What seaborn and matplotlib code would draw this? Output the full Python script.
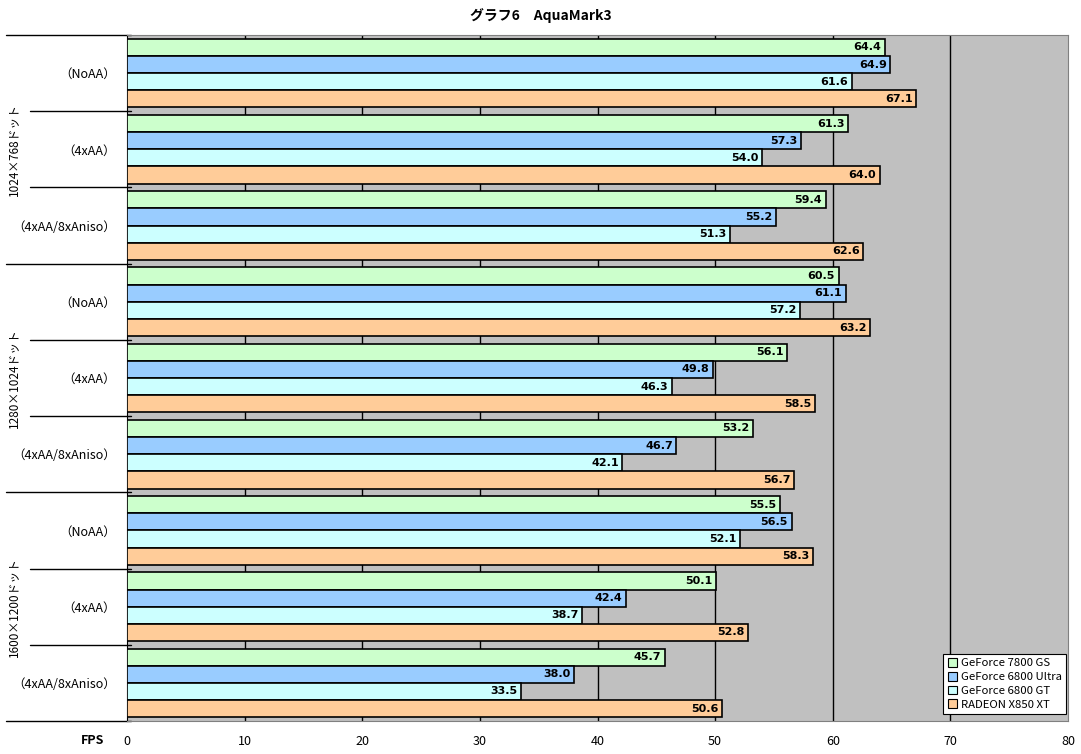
import matplotlib
matplotlib.use("Agg")
from matplotlib import pyplot as plt
from matplotlib.patches import Patch
import seaborn as sns
import pandas as pd
import numpy as np

resolutions = ["1024×768ドット", "1280×1024ドット", "1600×1200ドット"]
settings = ["（NoAA）", "（4xAA）", "（4xAA/8xAniso）"]
series = ["GeForce 7800 GS", "GeForce 6800 Ultra", "GeForce 6800 GT", "RADEON X850 XT"]
colors = ["#CCFFCC", "#99CCFF", "#CCFFFF", "#FFCC99"]

gf7800gs = [64.4, 61.3, 59.4, 60.5, 56.1, 53.2, 55.5, 50.1, 45.7]
gf6800ultra = [64.9, 57.3, 55.2, 61.1, 49.8, 46.7, 56.5, 42.4, 38.0]
gf6800gt = [61.6, 54.0, 51.3, 57.2, 46.3, 42.1, 52.1, 38.7, 33.5]
x850xt = [67.1, 64.0, 62.6, 63.2, 58.5, 56.7, 58.3, 52.8, 50.6]

xticks = [0, 10, 20, 30, 40, 50, 60, 70, 80]

sns.set_style("white")
plt.rcParams['font.family'] = ['Noto Sans CJK JP', 'DejaVu Sans']
plt.rcParams['text.color'] = 'black'
plt.rcParams['xtick.color'] = 'black'
plt.rcParams['ytick.color'] = 'black'

cats = [r + " " + s for r in resolutions for s in settings]
rows = []
for name, vals in zip(series, [gf7800gs, gf6800ultra, gf6800gt, x850xt]):
    for c, v in zip(cats, vals):
        rows.append({"cat": c, "series": name, "fps": v})
df = pd.DataFrame(rows)

fig = plt.figure(figsize=(10.81, 7.54), dpi=100)
ax = fig.add_axes([127 / 1081, 1 - 721 / 754, 941 / 1081, 686 / 754])
ax.set_facecolor("#C0C0C0")

sns.barplot(data=df, y="cat", x="fps", hue="series", order=cats, hue_order=series,
            palette=colors, orient="h", width=0.9, gap=0, edgecolor="black",
            linewidth=1.2, saturation=1, errorbar=None, legend=False, ax=ax, zorder=3)

# value labels at the right end inside each bar
for cont in ax.containers:
    for bar in cont.patches:
        w = bar.get_width()
        ax.text(w - 0.3, bar.get_y() + bar.get_height() / 2, "%.1f" % w,
                ha="right", va="center", fontsize=8, fontweight="bold", zorder=4,
                color="black", family=["DejaVu Sans"])

ax.set_xlim(0, 80)
ax.set_ylim(len(cats) - 0.5, -0.5)
ax.set_xticks(xticks)
ax.set_xticklabels([str(t) for t in xticks], fontsize=9)
for t in xticks[1:-1]:
    ax.axvline(t, color="black", lw=1, zorder=1)

ax.set_yticks(range(len(cats)))
ax.set_yticklabels(settings * 3, fontsize=9)
ax.tick_params(axis="y", length=0, pad=8)
ax.tick_params(axis="x", length=0, pad=10)
ax.set_xlabel("")
ax.set_ylabel("")

for side in ["top", "right", "bottom"]:
    ax.spines[side].set_color("#808080")
ax.spines["left"].set_color("black")

trans = ax.get_yaxis_transform()
for i in range(len(cats) + 1):
    y = i - 0.5
    x0 = -0.1286 if i % 3 == 0 else -0.103
    ax.plot([x0, 0.004], [y, y], color="black", lw=1, transform=trans, clip_on=False)

for k, r in enumerate(resolutions):
    ax.text(-0.12, 3 * k + 1, r, rotation=90, ha="center", va="center",
            fontsize=8.5, transform=trans)

ax.text(-0.024, -0.028, "FPS", transform=ax.transAxes, ha="right", va="center",
        fontsize=9, fontweight="bold")

fig.text(0.5, 1 - 16 / 754, "グラフ6　AquaMark3", ha="center", va="center",
         fontsize=10, fontweight="bold")

handles = [Patch(facecolor=c, edgecolor="black", lw=0.8) for c in colors]
leg = ax.legend(handles, series, loc="lower right", bbox_to_anchor=(0.998, 0.01),
                fontsize=8.2, frameon=True, fancybox=False, handlelength=0.8,
                handleheight=0.8, handletextpad=0.3, borderpad=0.4, labelspacing=0.3,
                borderaxespad=0, framealpha=1, facecolor="white")
leg.get_frame().set_edgecolor("black")
leg.get_frame().set_linewidth(0.8)
leg.set_zorder(5)

fig.savefig("out.png", dpi=100)
